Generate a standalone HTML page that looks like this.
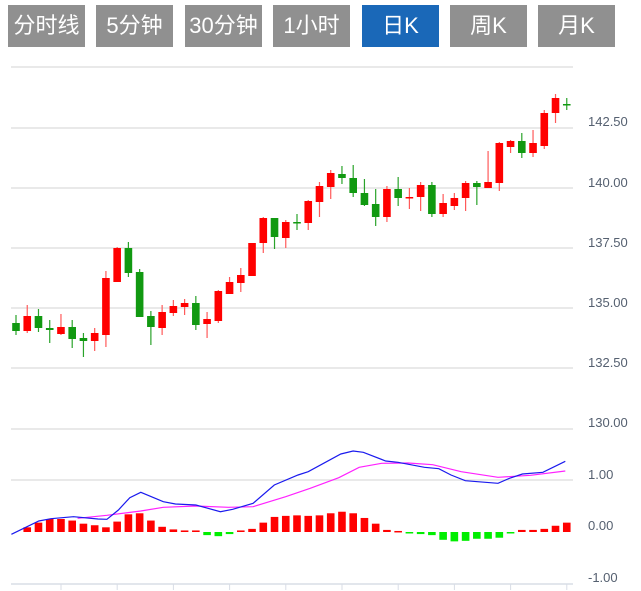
<!DOCTYPE html>
<html><head><meta charset="utf-8">
<style>
body{margin:0;background:#fff;width:641px;height:591px;overflow:hidden;font-family:"Liberation Sans","Noto Sans CJK SC",sans-serif}
.b{position:absolute;top:5px;height:42px;width:77px;background:#909090;color:#fff;font-size:22px;line-height:42px;text-align:center}
.on{background:#1a68b8}
svg{position:absolute;left:0;top:0}
</style></head><body>
<div class="b" style="left:8px">分时线</div>
<div class="b" style="left:96px">5分钟</div>
<div class="b" style="left:185px">30分钟</div>
<div class="b" style="left:273px">1小时</div>
<div class="b on" style="left:362px">日K</div>
<div class="b" style="left:450px">周K</div>
<div class="b" style="left:538px">月K</div>
<svg id="s" width="641" height="591" xmlns="http://www.w3.org/2000/svg"></svg>
<script>
var s='';
var grid=[67,128,188,248,308,368,429];
grid.forEach(function(y){s+='<line x1="11" x2="573" y1="'+y+'" y2="'+y+'" stroke="#e2e2e2" stroke-width="1.5"/>';});
var lab=[['142.50',121],['140.00',182],['137.50',242],['135.00',302],['132.50',362],['130.00',422]];
lab.forEach(function(l){s+='<text x="588" y="'+(l[1]+5)+'" font-size="13" fill="#556070">'+l[0]+'</text>';});
s+='<line x1="11" x2="573" y1="480" y2="480" stroke="#e2e2e2" stroke-width="1.5"/>';
s+='<line x1="11" x2="573" y1="584" y2="584" stroke="#d8dde6" stroke-width="1.5"/>';
[['1.00',474],['0.00',525],['-1.00',577]].forEach(function(l){s+='<text x="588" y="'+(l[1]+5)+'" font-size="13" fill="#556070">'+l[0]+'</text>';});
for(var i=0;i<10;i++){var x=61+i*56.2;s+='<line x1="'+x+'" x2="'+x+'" y1="584" y2="590" stroke="#d8dde6"/>';}
// candles: color, bodyTop, bodyBot, wickHi, wickLo
var c=[
['g',323,331,315,335],['r',316,331,305,333],['g',316,328,309,332],['g',328,330,320,343],['r',327,334,314,335],
['g',327,339,320,348],['g',338,341,333,357],['r',333,341,328,351],['r',278,335,271,347],['r',248,282,247,282],
['g',248,273,242,277],['g',272,317,269,317],['g',316,327,311,345],['r',312,328,305,335],['r',306,313,300,316],
['r',303,307,299,315],['g',303,325,296,330],['r',319,324,312,338],['r',291,321,290,323],['r',282,294,277,294],
['r',275,283,268,292],['r',243,276,243,276],['r',218,243,217,253],['g',218,237,218,249],['r',222,238,220,248],
['g',222,223.5,214,230],['r',201,223,200,230],['r',186,202,182,217],['r',173,187,170,199],['g',174,178,166,184],
['g',178,193,165,197],['g',193,205,179,206],['g',204,217,189,226],['r',189,217,186,222],['g',189,198,177,206],
['r',197,198.5,188,209],['r',185,197,182,211],['g',185,214,182,217],['r',203,214,194,217],['r',198,206,193,210],
['r',183,198,181,211],['g',183,187,181,205],['r',182,188,151,188],['r',143,183,142,191],['r',141,147,140,153],
['g',141,153,133,158],['r',143,153,130,157],['r',113,146,110,149],['r',98,113,94,123],['g',104,105.5,98,110]];
function X(i){return 16+i*11.24;}
c.forEach(function(d,i){var x=X(i);var col=d[0]=='r'?'#ff0000':'#119911';var wc=d[0]=='r'?'#ff5a5a':'#2aa32a';
s+='<line x1="'+x+'" x2="'+x+'" y1="'+d[3]+'" y2="'+d[4]+'" stroke="'+wc+'" stroke-width="1.2"/>';
s+='<rect x="'+(x-3.8)+'" y="'+d[1]+'" width="7.6" height="'+Math.max(d[2]-d[1],1.5)+'" fill="'+col+'"/>';});
// MACD bars
var m=[0,.09,.18,.25,.25,.22,.16,.13,.09,.20,.34,.36,.22,.10,.05,.03,.03,-.06,-.08,-.04,.03,.06,.18,.29,.31,.32,.31,.32,.36,.39,.36,.27,.16,.04,.02,-.01,-.04,-.06,-.15,-.18,-.17,-.13,-.13,-.11,-.02,.04,.04,.06,.12,.18];
var z=532,k=52;
m.forEach(function(v,i){if(!v)return;var x=X(i);var h=Math.abs(v)*k;var y=v>0?z-h:z;
s+='<rect x="'+(x-3.8)+'" y="'+y+'" width="7.6" height="'+Math.max(h,1.5)+'" fill="'+(v>0?'#ff0000':'#00ee00')+'"/>';});
function pl(pts,col){var p=pts.map(function(q){return (q[0]/2.45).toFixed(1)+','+(430+q[1]/3).toFixed(1);}).join(' ');
return '<polyline points="'+p+'" fill="none" stroke="'+col+'" stroke-width="1.2"/>';}
s+=pl([[190,265],[262,256],[345,243],[400,232],[480,228],[560,232],[620,230],[700,200],[760,175],[830,143],[880,112],[935,100],[1000,99],[1060,104],[1130,125],[1220,142],[1300,136],[1385,123]],'#ff22ff');
s+=pl([[28,313],[95,273],[125,266],[180,260],[240,267],[262,268],[290,240],[318,203],[345,187],[400,215],[430,222],[480,225],[540,245],[570,238],[620,220],[672,165],[730,135],[755,125],[835,72],[865,63],[890,67],[945,93],[975,97],[1040,112],[1075,116],[1105,135],[1140,152],[1170,155],[1220,160],[1250,144],[1280,132],[1330,127],[1385,94]],'#1a1aee');
document.getElementById('s').innerHTML=s;
</script>
</body></html>
